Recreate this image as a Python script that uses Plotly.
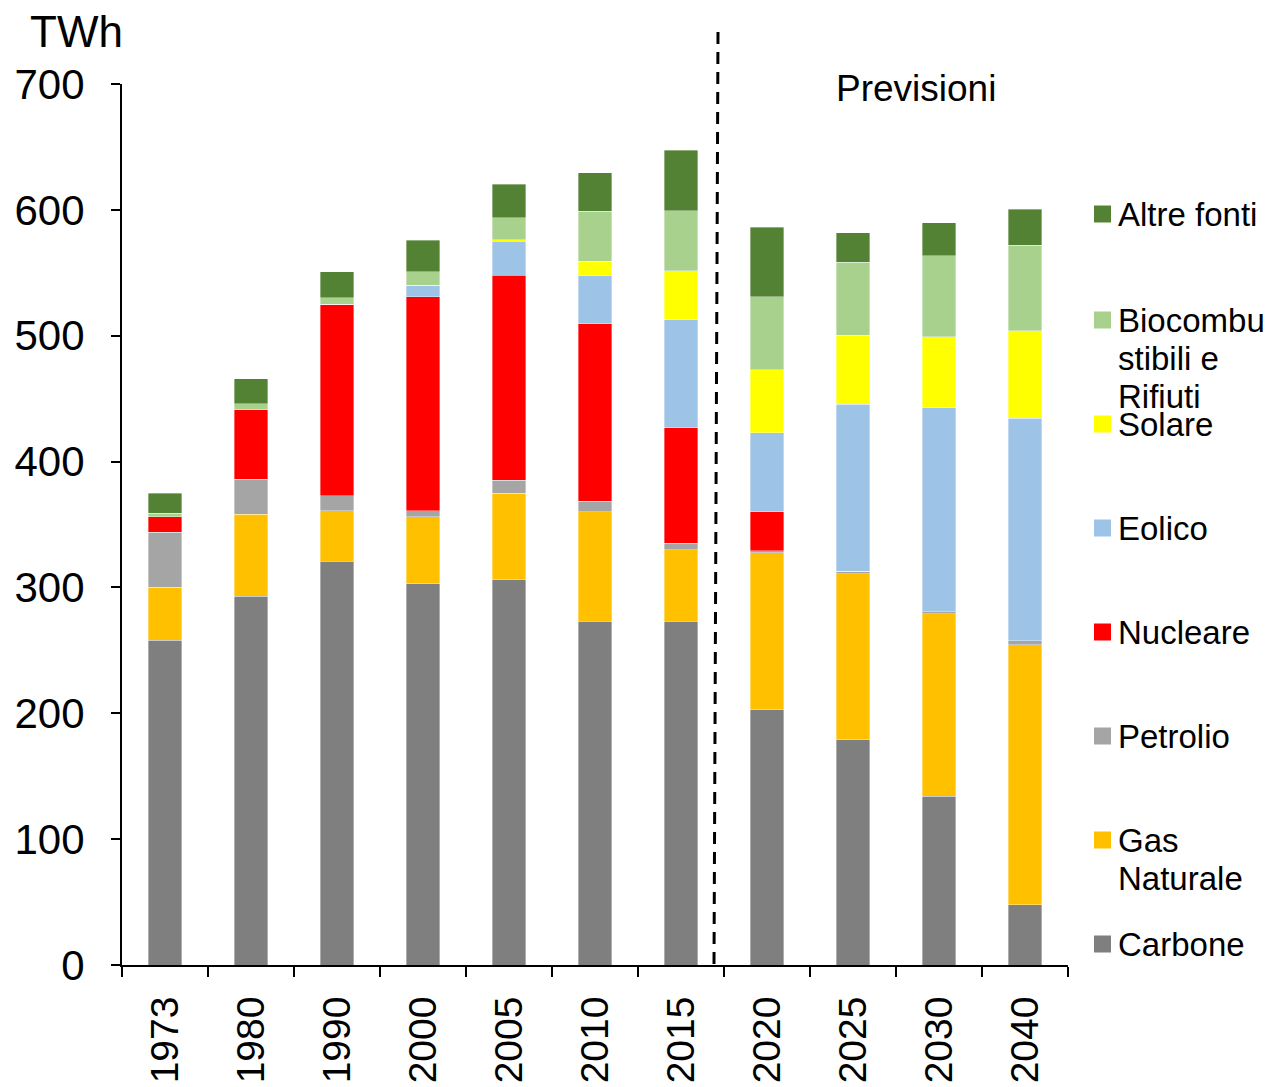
import plotly.graph_objects as go

anni = ["1973", "1980", "1990", "2000", "2005", "2010", "2015", "2020", "2025", "2030", "2040"]

carbone   = [258, 293, 321, 303, 306, 273, 273, 203, 179, 134, 48]
gas       = [42, 65, 40, 53, 69, 87, 57, 124.5, 132, 145, 206.5]
petrolio  = [44, 28, 12, 5, 10, 8.5, 5, 1.5, 2, 1.6, 3]
nucleare  = [12, 55, 152, 170, 163, 141, 92, 31, 0, 0, 0]
eolico    = [0, 0, 0, 9, 27, 38, 85.5, 63, 132.5, 162, 177]
solare    = [0, 0, 0, 0, 1.3, 11.5, 39, 50, 55, 56.5, 69.5]
bio       = [3, 5, 5, 11, 17.5, 40, 47.7, 58, 58, 64.3, 68]
altre     = [16, 20, 21, 25, 26.5, 30.5, 48, 55, 23.5, 26.2, 28.6]

serie = [
    ("Carbone", carbone, "#7F7F7F"),
    ("Gas Naturale", gas, "#FFC000"),
    ("Petrolio", petrolio, "#A5A5A5"),
    ("Nucleare", nucleare, "#FF0000"),
    ("Eolico", eolico, "#9DC3E6"),
    ("Solare", solare, "#FFFF00"),
    ("Biocombustibili e Rifiuti", bio, "#A9D18E"),
    ("Altre fonti", altre, "#548235"),
]

legenda_righe = {
    "Altre fonti": ["Altre fonti"],
    "Biocombustibili e Rifiuti": ["Biocombu", "stibili e", "Rifiuti"],
    "Solare": ["Solare"],
    "Eolico": ["Eolico"],
    "Nucleare": ["Nucleare"],
    "Petrolio": ["Petrolio"],
    "Gas Naturale": ["Gas", "Naturale"],
    "Carbone": ["Carbone"],
}

FONT = "Liberation Sans, Arial, sans-serif"

fig = go.Figure()
for nome, vals, col in serie:
    fig.add_trace(go.Bar(
        x=anni, y=vals, name=nome,
        marker=dict(color=col, line=dict(color="rgba(255,255,255,0.6)", width=0.6)),
        showlegend=False,
    ))

# page has an 8px body margin
OFF = 8
W, H = 1279 - OFF, 1087 - OFF
PL, PR, PT, PB = 122, 1068, 84, 965   # plot area in page pixels
L = PL - OFF
T = PT - OFF
R = OFF + W - PR
B = OFF + H - PB
pw = PR - PL
ph = PB - PT

def px_x(x):
    return (x - PL) / pw

def px_y(y):
    return (PB - y) / ph

shapes = []
annotations = []

# dashed separator between history and forecasts
shapes.append(dict(type="line", xref="paper", yref="paper",
                   x0=px_x(718), x1=px_x(714), y0=px_y(32), y1=0,
                   line=dict(color="black", width=3, dash="12px,8px")))

annotations.append(dict(text="Previsioni", xref="paper", yref="paper",
                        x=px_x(916), y=px_y(88), xanchor="center", yanchor="middle",
                        showarrow=False, font=dict(size=37, color="black", family=FONT)))
annotations.append(dict(text="TWh", xref="paper", yref="paper",
                        x=px_x(76), y=px_y(32), xanchor="center", yanchor="middle",
                        showarrow=False, font=dict(size=44, color="black", family=FONT)))

# manual legend (top to bottom)
leg_y = [214, 320, 424, 528, 632, 736, 840, 944]
ordine = list(reversed(serie))
for (nome, _, col), yc in zip(ordine, leg_y):
    shapes.append(dict(type="rect", xref="paper", yref="paper",
                       x0=px_x(1094), x1=px_x(1111), y0=px_y(yc + 8.5), y1=px_y(yc - 8.5),
                       fillcolor=col, line=dict(width=0)))
    for k, riga in enumerate(legenda_righe[nome]):
        annotations.append(dict(text=riga, xref="paper", yref="paper",
                                x=px_x(1116), y=px_y(yc + 38 * k), xanchor="left", yanchor="middle",
                                align="left", showarrow=False,
                                font=dict(size=33, color="black", family=FONT)))

fig.update_layout(
    barmode="stack",
    bargap=0.61,
    width=W, height=H,
    margin=dict(l=L, r=R, t=T, b=B, autoexpand=False),
    paper_bgcolor="white", plot_bgcolor="white",
    font=dict(family=FONT, color="black"),
    shapes=shapes,
    annotations=annotations,
    xaxis=dict(
        type="category", range=[-0.5, 10.5],
        showline=True, linecolor="black", linewidth=2,
        ticks="outside", tickson="boundaries", ticklen=10, tickwidth=2, tickcolor="black",
        tickangle=-90, tickfont=dict(size=39, family=FONT, color="black"),
        ticklabelstandoff=14,
        showgrid=False, zeroline=False,
    ),
    yaxis=dict(
        range=[0, 700], tickvals=[0, 100, 200, 300, 400, 500, 600, 700],
        showline=True, linecolor="black", linewidth=2,
        ticks="outside", ticklen=9, tickwidth=2, tickcolor="black",
        tickfont=dict(size=42, family=FONT, color="black"),
        ticklabelstandoff=18,
        showgrid=False, zeroline=False,
    ),
)

fig.write_html("out.html")
